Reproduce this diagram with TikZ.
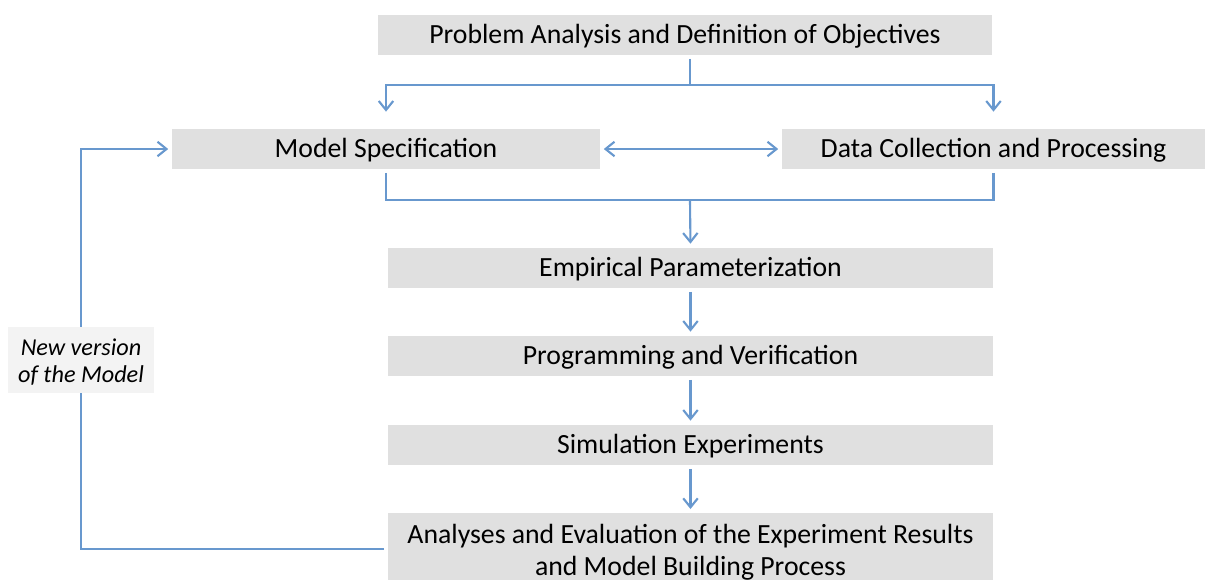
\documentclass[tikz,border=0pt]{standalone}
\usepackage{fontspec}
\setmainfont{Carlito}
\usetikzlibrary{arrows.meta}
\definecolor{linkblue}{RGB}{104,152,206}
\definecolor{boxgray}{RGB}{224,224,224}
\definecolor{notegray}{RGB}{243,243,243}

\begin{document}
\begin{tikzpicture}[x=0.02cm,y=-0.02cm,
  step node/.style={fill=boxgray,font=\fontsize{15.8}{18.3}\selectfont,minimum height=0.8cm,inner sep=0pt,
    text height=13pt,text depth=3.2pt,align=center},
  note node/.style={fill=notegray,font=\fontsize{13.8}{15.5}\selectfont\itshape,minimum width=2.94cm,minimum height=1.32cm,inner sep=0pt,
    text height=26pt,text depth=0pt,align=center},
  link/.style={draw=linkblue,line width=1.2pt,-{Straight Barb[length=1.8mm,width=2.9mm]}},
  plain link/.style={draw=linkblue,line width=1.2pt}]

  \useasboundingbox (0,0) rectangle (1205,579);

  \node[step node,minimum width=12.3cm] (1) at (685,35) {Problem Analysis and Definition of Objectives};
  \node[step node,minimum width=8.56cm] (2) at (386,149) {Model Specification};
  \node[step node,minimum width=8.46cm] (3) at (993.5,149) {Data Collection and Processing};
  \node[step node,minimum width=12.1cm] (4) at (690.5,268) {Empirical Parameterization};
  \node[step node,minimum width=12.1cm] (5) at (690.5,356) {Programming and Verification};
  \node[step node,minimum width=12.1cm] (6) at (690.5,445) {Simulation Experiments};
  \node[step node,minimum width=12.1cm,minimum height=1.56cm,text height=29.2pt,anchor=north] (7) at (690.5,513)
    {Analyses and Evaluation of the Experiment Results\\and Model Building Process};
  \node[note node] (8) at (81,360) {New version\\of the Model};

  \coordinate (a) at (690,85);
  \coordinate (b) at (690,200);

  \draw[plain link,shorten <=2pt] (1.south -| a) -- (a);
  \draw[link,shorten >=0.34cm] (a) -| (2.north);
  \draw[link,shorten >=0.34cm] (a) -| (3.north);
  \draw[link,{Straight Barb[length=1.8mm,width=2.9mm]}-{Straight Barb[length=1.8mm,width=2.9mm]},shorten <=2pt,shorten >=2pt] (2) -- (3);
  \draw[plain link,shorten <=2pt] (2.south) |- (b);
  \draw[plain link,shorten <=2pt] (3.south) |- (b);
  \draw[link,shorten >=0.08cm] (b) -- (4.north);
  \draw[link,shorten <=2pt,shorten >=0.08cm] (4) -- (5);
  \draw[link,shorten <=2pt,shorten >=0.08cm] (5) -- (6);
  \draw[link,shorten <=2pt,shorten >=0.08cm] (6) -- (7);
  \draw[plain link,shorten <=2pt] ([yshift=2pt]7.west) -| (8.south);
  \draw[link,shorten >=2pt] (8.north) |- (2.west);
\end{tikzpicture}
\end{document}
